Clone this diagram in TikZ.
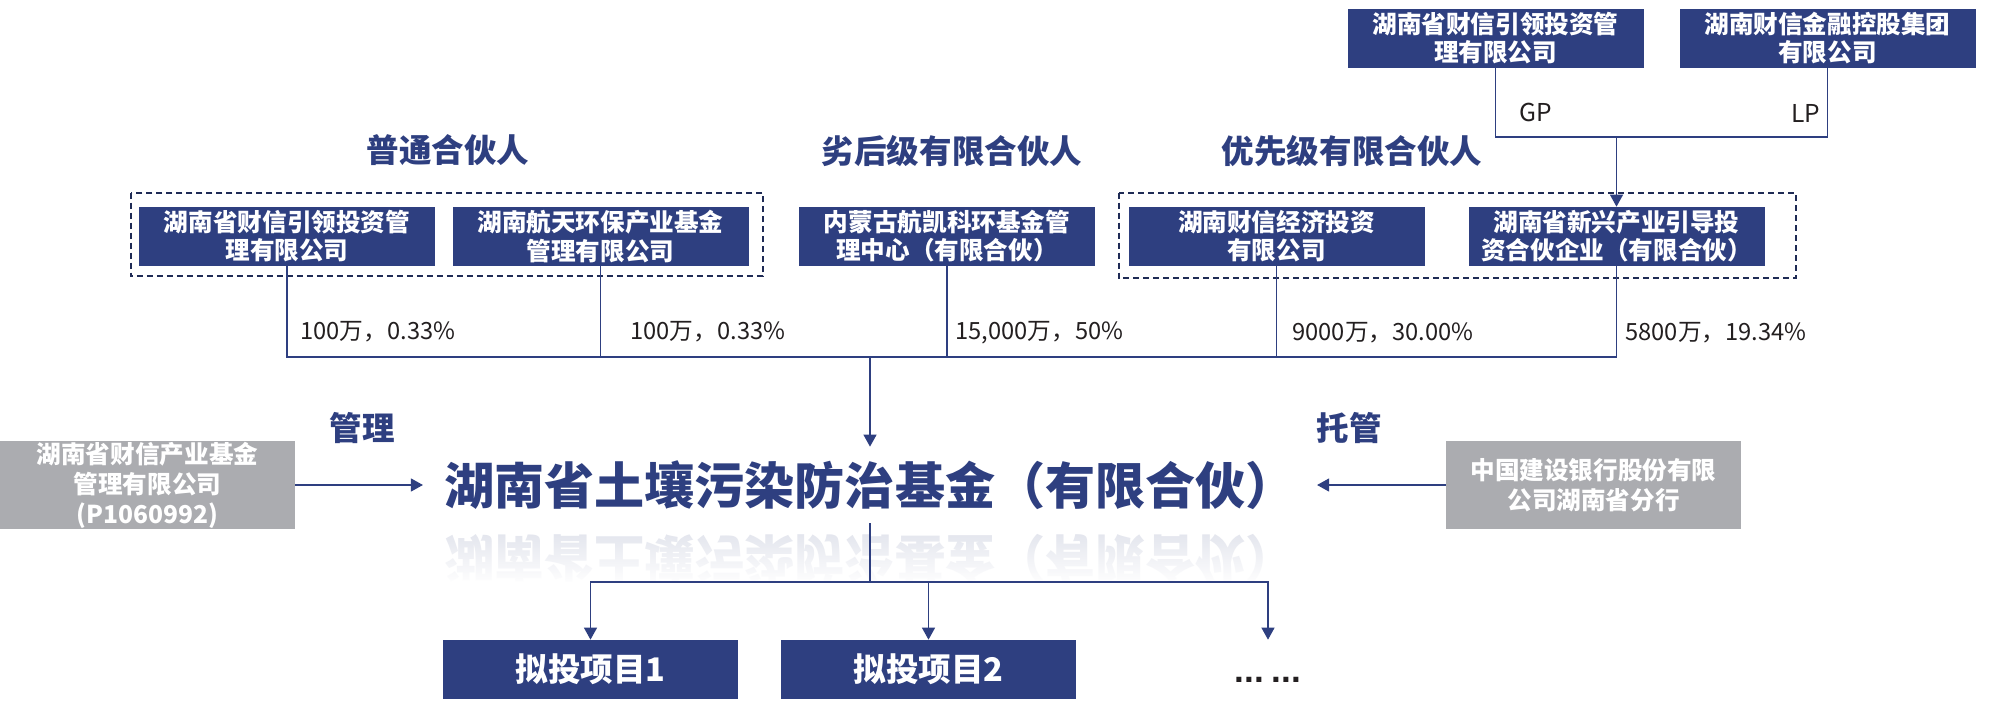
\documentclass[tikz,border=0pt]{standalone}
\usepackage{fontspec}
\setmainfont{Noto Sans CJK SC}
\newfontfamily\dotsfont{Liberation Sans}
\usetikzlibrary{arrows.meta, calc, fadings}
\definecolor{fundblue}{RGB}{46,63,128}
\definecolor{fundgrey}{RGB}{171,172,176}
\definecolor{dashnavy}{RGB}{31,43,85}
\definecolor{txtdark}{RGB}{35,31,32}
\tikzfading[name=fadedown, top color=transparent!100, middle color=transparent!0, bottom color=transparent!0]
\tikzset{
  box/.style={rectangle, fill=fundblue, text=white, font=\fontsize{14}{16}\selectfont\bfseries, align=center, minimum width=59.2mm, minimum height=11.8mm, inner sep=0pt},
  greybox/.style={box, fill=fundgrey, minimum width=59mm, minimum height=17.6mm, font=\fontsize{14}{17}\selectfont\bfseries},
  projbox/.style={box, minimum width=59mm, font=\fontsize{18.5}{20}\selectfont\bfseries},
  hdr/.style={text=fundblue, font=\fontsize{18.5}{20}\selectfont\bfseries, inner sep=0pt},
  share/.style={text=txtdark, font=\fontsize{13.5}{16}\selectfont, anchor=west, inner sep=0pt},
  tag/.style={text=txtdark, font=\fontsize{14}{16}\selectfont, inner sep=0pt},
  fund/.style={font=\fontsize{28.5}{30}\selectfont\bfseries, text height=8.5mm, text depth=0.7mm, inner xsep=4.2mm, inner ysep=3mm},
  link/.style={draw=fundblue, line width=0.7pt},
  arr/.style={link, -{Triangle[length=2.4mm, width=2.6mm]}},
  grp/.style={draw=dashnavy, line width=1.1pt, dash pattern=on 1.2mm off 0.8mm}
}
\begin{document}
\begin{tikzpicture}[x=0.2mm, y=-0.2mm]
  \path[use as bounding box, fill=white] (0,0) rectangle (2011,715);

  % Owners of the guiding fund
  \node[box] (tbLead)  at (1495.5,38) {湖南省财信引领投资管\\理有限公司};
  \node[box] (tbGroup) at (1827.5,38) {湖南财信金融控股集团\\有限公司};
  \node[tag] (tagGP) at (1536,112) {GP};
  \node[tag] (tagLP) at (1806,113) {LP};

  % Partner groups
  \node[hdr] (hdrGen) at (448,150) {普通合伙人};
  \node[hdr] (hdrSub) at (952,151) {劣后级有限合伙人};
  \node[hdr] (hdrPri) at (1352,151) {优先级有限合伙人};

  \node[box] (gpLead)     at (287,236.5)  {湖南省财信引领投资管\\理有限公司};
  \node[box] (gpHangtian) at (600.5,236.5) {湖南航天环保产业基金\\管理有限公司};
  \node[box] (lpMeng)     at (947,236.5)  {内蒙古航凯科环基金管\\理中心（有限合伙）};
  \node[box] (lpEcon)     at (1276.5,236.5) {湖南财信经济投资\\有限公司};
  \node[box] (lpXinxing)  at (1616.5,236.5) {湖南省新兴产业引导投\\资合伙企业（有限合伙）};
  \draw[grp] ($(gpLead.north west)+(-8,-14)$) rectangle ($(gpHangtian.south east)+(14,10)$);
  \draw[grp] ($(lpEcon.north west)+(-9,-14)$) rectangle ($(lpXinxing.south east)+(31,12)$);

  % Subscribed capital
  \node[share] (shLead)     at (300,332)  {100万，0.33\%};
  \node[share] (shHangtian) at (630,332)  {100万，0.33\%};
  \node[share] (shMeng)     at (955,333)  {15,000万，50\%};
  \node[share] (shEcon)     at (1292,333) {9000万，30.00\%};
  \node[share] (shXinxing)  at (1625,333) {5800万，19.34\%};

  % Fund with reflection
  \begin{scope}[shift={(870,559)}, yscale=-1]
    \node[fund, text=fundblue!13, transform shape] (fundRefl) at (0,0) {湖南省土壤污染防治基金（有限合伙）};
  \end{scope}
  \fill[white, path fading=fadedown] ($(fundRefl.center)+(-460,-25)$) rectangle ($(fundRefl.center)+(460,25)$);
  \fill[white] ($(fundRefl.center)+(-460,24)$) rectangle ($(fundRefl.center)+(460,45)$);
  \node[fund, text=fundblue] (fund) at (870,485) {湖南省土壤污染防治基金（有限合伙）};

  \node[greybox] (gmgr)  at (147.5,485)  {湖南省财信产业基金\\管理有限公司\\(P1060992)};
  \node[greybox] (gbank) at (1593.5,485) {中国建设银行股份有限\\公司湖南省分行};
  \node[hdr] (lblMgmt) at (362,428)  {管理};
  \node[hdr] (lblCust) at (1349,428) {托管};

  % Projects
  \node[projbox] (proj1) at (590.5,669.5) {拟投项目1};
  \node[projbox] (proj2) at (928.5,669.5) {拟投项目2};
  \node[projbox, fill=none, text=txtdark, font=\fontsize{20}{22}\selectfont\dotsfont\bfseries, text height=5.6mm, text depth=0.4mm] (projMore) at (1268,669.5) {...\hspace{1.5mm}...};

  % Connectors
  \coordinate (jgp) at (1616.5,137);
  \draw[link] (tbLead.south) |- (jgp);
  \draw[link] (tbGroup.south) |- (jgp);
  \draw[arr] (jgp) -- (lpXinxing.north);

  \coordinate (jfund) at (870,357);
  \foreach \n in {gpLead, gpHangtian, lpMeng, lpEcon, lpXinxing}
    \draw[link] (\n.south) |- (jfund);
  \draw[arr] (jfund) -- (fund.north);

  \draw[arr] (gmgr.east) -- (fund.west);
  \draw[arr] (gbank.west) -- (fund.east);

  \coordinate (jproj) at (870,582);
  \draw[link] (fund.south) -- (jproj);
  \foreach \n in {proj1, proj2, projMore}
    \draw[arr] (jproj) -| (\n.north);
\end{tikzpicture}
\end{document}
